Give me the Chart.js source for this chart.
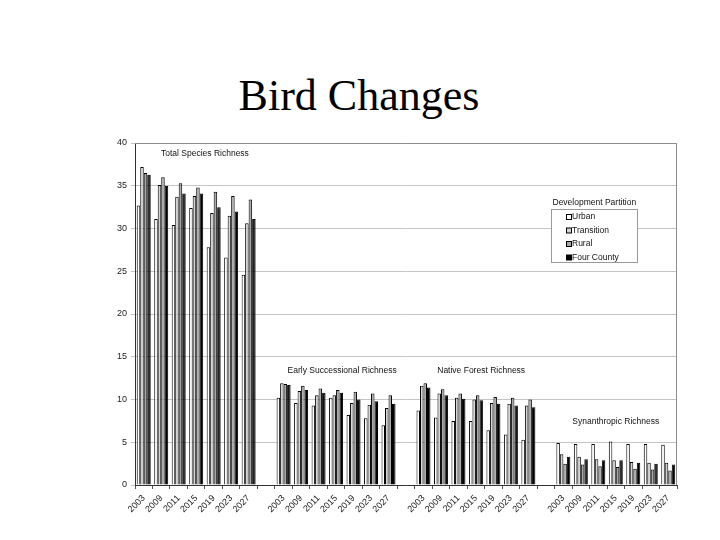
<!DOCTYPE html>
<html>
<head>
<meta charset="utf-8">
<script src="https://cdn.jsdelivr.net/npm/chart.js@4/dist/chart.umd.min.js"></script>
<style>
  html, body { margin: 0; padding: 0; background: #fff; }
  #wrap { position: relative; width: 720px; height: 540px; }
  #title { position: absolute; left: 0; top: 70px; width: 718px; text-align: center;
           font-family: "Liberation Serif", "Times New Roman", serif; font-size: 44px; color: #000; }
  canvas { position: absolute; left: 0; top: 0; }
</style>
</head>
<body>
<div id="wrap">
  <div id="title">Bird Changes</div>
  <canvas id="myChart" width="720" height="540"></canvas>
</div>
<script>
// year labels, repeated for every group of bars
let years = ['2003', '2009', '2011', '2015', '2019', '2023', '2027'];
let groups = ['Total Species Richness', 'Early Successional Richness', 'Native Forest Richness', 'Synanthropic Richness'];
let legendTitle = 'Development Partition';
let series = ['Urban', 'Transition', 'Rural', 'Four County'];

// values per group (total, early successional, native forest, synanthropic)
let urban = [
    32.7, 31.1, 30.4, 32.4, 27.8, 26.6, 24.6,
    10.2, 9.6, 9.3, 10.2, 8.2, 7.8, 7.0,
    8.7, 7.9, 7.5, 7.5, 6.4, 5.9, 5.3,
    4.9, 4.8, 4.8, 5.1, 4.8, 4.8, 4.7
];
let transition = [
    37.2, 35.1, 33.7, 33.8, 31.8, 31.5, 30.6,
    11.9, 11.0, 10.5, 10.5, 9.6, 9.4, 9.0,
    11.6, 10.7, 10.2, 10.0, 9.6, 9.5, 9.3,
    3.6, 3.3, 3.0, 2.9, 2.7, 2.6, 2.6
];
let rural = [
    36.5, 36.0, 35.3, 34.8, 34.3, 33.8, 33.4,
    11.8, 11.6, 11.3, 11.1, 10.9, 10.7, 10.5,
    11.9, 11.2, 10.7, 10.5, 10.3, 10.2, 10.0,
    2.5, 2.4, 2.2, 2.1, 1.9, 1.8, 1.7
];
let fourCounty = [
    36.3, 35.0, 34.1, 34.1, 32.5, 32.0, 31.1,
    11.7, 11.1, 10.8, 10.8, 10.0, 9.8, 9.5,
    11.4, 10.5, 10.1, 9.9, 9.5, 9.3, 9.1,
    3.3, 3.0, 2.9, 2.9, 2.6, 2.5, 2.4
];

let colors = ['#ffffff', '#d4d4d4', '#a8a8a8', '#000000'];

// spread the groups out with one empty category between them
let labels = [];
for (let g = 0; g < groups.length; g++) {
    if (g > 0) labels.push('');
    for (let i = 0; i < years.length; i++) labels.push(years[i]);
}
function spread(values) {
    let out = [];
    for (let g = 0; g < groups.length; g++) {
        if (g > 0) out.push(null);
        for (let i = 0; i < years.length; i++) out.push(values[g * years.length + i]);
    }
    return out;
}

let datasets = [urban, transition, rural, fourCounty].map(function (v, i) {
    return {
        label: series[i],
        data: spread(v),
        backgroundColor: colors[i],
        borderColor: '#000',
        borderWidth: 1,
        categoryPercentage: 0.8,
        barPercentage: 1.0
    };
});

// where the group names sit (category index, y value)
let notePlaces = [[3.5, 38.8], [11.35, 13.4], [19.3, 13.4], [27.0, 7.4]];

let decorations = {
    id: 'decorations',
    afterDraw: function (chart) {
        let c = chart.ctx;
        let a = chart.chartArea;
        let xs = chart.scales.x;
        let ys = chart.scales.y;
        c.save();
        // frame on top and right
        c.strokeStyle = '#8c8c8c';
        c.lineWidth = 1;
        c.beginPath();
        c.moveTo(a.left, a.top + 0.5);
        c.lineTo(a.right - 0.5, a.top + 0.5);
        c.lineTo(a.right - 0.5, a.bottom);
        c.stroke();

        c.font = '8.5px "Liberation Sans", Arial, sans-serif';
        c.fillStyle = '#111';
        c.textAlign = 'center';
        c.textBaseline = 'middle';
        for (let g = 0; g < groups.length; g++) {
            let x = xs.getPixelForValue(notePlaces[g][0]);
            let y = ys.getPixelForValue(notePlaces[g][1]);
            c.fillText(groups[g], x, y);
        }

        // legend
        c.textAlign = 'left';
        c.fillText(legendTitle, 552.5, 203);
        c.fillStyle = '#fff';
        c.fillRect(551, 209, 87, 54);
        c.strokeStyle = '#9a9a9a';
        c.strokeRect(551.5, 209.5, 86, 53);
        chart.data.datasets.forEach(function (ds, i) {
            let y = 217 + i * 13.5;
            c.fillStyle = ds.backgroundColor;
            c.fillRect(566.5, y - 2.5, 5, 5);
            c.strokeStyle = '#000';
            c.strokeRect(566.5, y - 2.5, 5, 5);
            c.fillStyle = '#111';
            c.fillText(ds.label, 572, y);
        });
        c.restore();
    }
};

let ctx = document.getElementById('myChart');
let myChart = new Chart(ctx, {
    type: 'bar',
    data: { labels: labels, datasets: datasets },
    options: {
        responsive: false,
        animation: false,
        layout: { padding: { left: 0, top: 143, right: 43, bottom: 0 } },
        plugins: { legend: { display: false }, tooltip: { enabled: false } },
        scales: {
            x: {
                afterFit: function (scale) { scale.height = 55; },
                grid: { display: true, drawOnChartArea: false, drawTicks: true, tickLength: 4, color: '#555' },
                border: { color: '#333' },
                ticks: {
                    autoSkip: false, minRotation: 45, maxRotation: 45, padding: 4,
                    color: '#222', font: { family: '"Liberation Sans", Arial, sans-serif', size: 9 }
                }
            },
            y: {
                min: 0, max: 40,
                afterFit: function (scale) { scale.width = 135; },
                grid: { color: '#c4c4c4', drawTicks: true, tickLength: 4 },
                border: { color: '#333' },
                ticks: {
                    stepSize: 5, padding: 4,
                    color: '#222', font: { family: '"Liberation Sans", Arial, sans-serif', size: 9 }
                }
            }
        }
    },
    plugins: [decorations]
});
</script>
</body>
</html>
